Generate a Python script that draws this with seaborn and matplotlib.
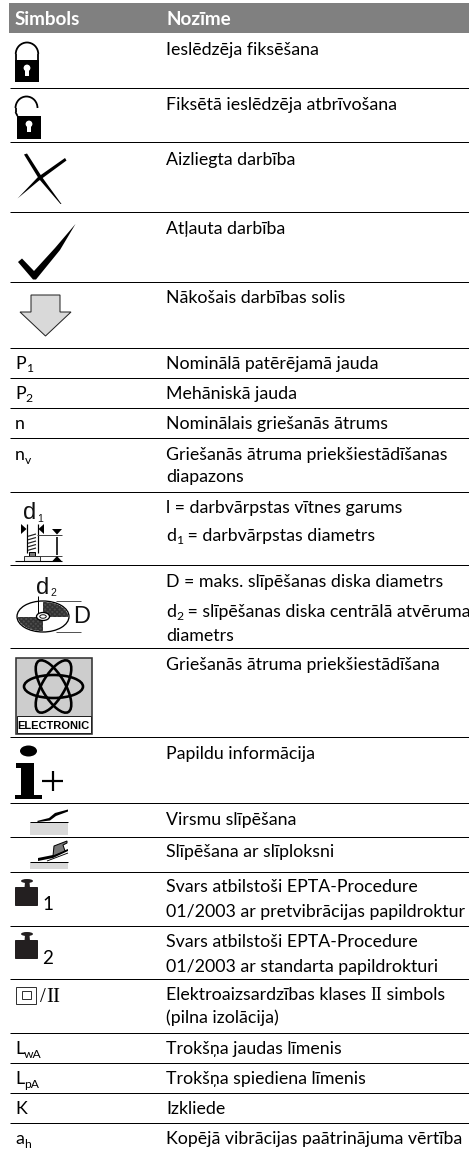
import matplotlib
matplotlib.use("Agg")
import matplotlib.pyplot as plt
import seaborn as sns
from matplotlib.patches import Polygon, Rectangle, Ellipse, Circle, Arc, FancyBboxPatch

W, H = 469, 1149

# ---- table content ----
header_symbol = "Simbols"
header_meaning = "Nozīme"
plain_symbols = [("P", "1", 369), ("P", "2", 399), ("n", "", 429), ("n", "v", 460),
                 ("L", "wA", 1054), ("L", "pA", 1084), ("K", "", 1114), ("a", "h", 1144)]
meanings = [
    "Ieslēdzēja fiksēšana", "Fiksētā ieslēdzēja atbrīvošana", "Aizliegta darbība",
    "Atļauta darbība", "Nākošais darbības solis", "Nominālā patērējamā jauda",
    "Mehāniskā jauda", "Nominālais griešanās ātrums",
    "Griešanās ātruma priekšiestādīšanas", "diapazons",
    "l = darbvārpstas vītnes garums", "D = maks. slīpēšanas diska diametrs", "diametrs",
    "Griešanās ātruma priekšiestādīšana", "Papildu informācija", "Virsmu slīpēšana",
    "Slīpēšana ar slīploksni", "Svars atbilstoši EPTA-Procedure",
    "01/2003 ar pretvibrācijas papildroktur", "Svars atbilstoši EPTA-Procedure",
    "01/2003 ar standarta papildrokturi", "(pilna izolācija)", "Trokšņa jaudas līmenis",
    "Trokšņa spiediena līmenis", "Izkliede", "Kopējā vibrācijas paātrinājuma vērtība",
]
meaning_baselines = [55, 110, 165, 234, 303, 369, 399, 429, 460, 482, 513, 587, 641, 670,
                     759, 825, 857, 892, 917, 947, 972, 1023, 1054, 1084, 1114, 1144]
rule_positions = [88, 142, 212, 282, 348, 378, 408, 438, 492, 565, 648, 737, 803, 837,
                  872, 926, 979, 1033, 1063, 1093, 1123]

FONT = ["Lato", "Liberation Sans"]
FS = 12.8
HEADER_FS = 13.6
sns.set_theme(style="white")
plt.rcParams["font.family"] = FONT

fig = plt.figure(figsize=(W / 100, H / 100), dpi=100, facecolor="white")
ax = fig.add_axes([0, 0, 1, 1])
ax.set_xlim(0, W)
ax.set_ylim(H, 0)
ax.axis("off")
sns.despine(ax=ax, left=True, bottom=True)
px = 0.72
INK = "#000000"


def runs(x, y, parts, size=FS, color=INK):
    """Draw text runs; a part is (text, is_subscript, family or None)."""
    r = fig.canvas.get_renderer()
    for text, sub, fam in parts:
        t = ax.text(x, y + (3.5 if sub else 0), text, fontsize=size * (0.68 if sub else 1),
                    color=color, va="baseline", ha="left", family=fam or FONT)
        x = ax.transData.inverted().transform(
            (t.get_window_extent(r).x1, 0))[0]
    return x


def poly(pts, fc="black", ec="none", lw=0, z=3):
    ax.add_patch(Polygon(pts, closed=True, fc=fc, ec=ec, lw=lw * px, zorder=z, joinstyle="miter"))


def line(xs, ys, lw=1.0, c="black", z=3):
    ax.plot(xs, ys, color=c, lw=lw * px, solid_capstyle="butt", zorder=z)


# ---- header band and rules ----
ax.add_patch(Rectangle((9, 3), W - 9, 30, fc="#808080", ec="none"))
ax.text(15, 25, header_symbol, color="white", fontsize=HEADER_FS, fontweight="bold", va="baseline")
ax.text(166, 25, header_meaning, color="white", fontsize=HEADER_FS, fontweight="bold", va="baseline")
ax.hlines(rule_positions, 10, W, color="black", lw=1.0 * px)

# ---- text ----
for text, base in zip(meanings, meaning_baselines):
    runs(166, base, [(text, False, None)])
runs(166, 541, [("d", False, None), ("1", True, None), (" = darbvārpstas diametrs", False, None)])
runs(166, 617, [("d", False, None), ("2", True, None),
                (" = slīpēšanas diska centrālā atvēruma", False, None)])
runs(166, 1000, [("Elektroaizsardzības klases ", False, None),
                 ("II", False, "Liberation Serif"), (" simbols", False, None)])
for main, sub, base in plain_symbols:
    parts = [(main, False, None)]
    if sub:
        parts.append((sub, True, None))
    runs(15, base, parts)


# ---- icons ----
def lock_body(x0, y0, w, h):
    ax.add_patch(Rectangle((x0, y0), w, h, fc="black", ec="none", zorder=3))
    cx = x0 + w / 2
    ax.add_patch(Circle((cx, y0 + 8), 3.4, fc="white", ec="none", zorder=4))
    poly([(cx - 1.8, y0 + 9), (cx + 1.8, y0 + 9), (cx + 1.8, y0 + 16), (cx - 1.8, y0 + 16)], fc="white", z=4)


# closed lock
lock_body(15, 60, 24, 22)
ax.add_patch(Arc((27, 54), 22.5, 23, theta1=180, theta2=360, color="black", lw=1.8 * px, zorder=3))
line([15.8, 15.8], [54, 60], 1.8)
line([38.2, 38.2], [54, 60], 1.8)
# open lock
lock_body(17, 116, 24, 23)
ax.add_patch(Arc((26.5, 108), 22, 23, theta1=180, theta2=360, color="black", lw=1.8 * px, zorder=3))
line([15.5, 15.5], [108, 112], 1.8)
line([15.5, 17.5], [112, 116], 1.8)
# cross
poly([(24, 154.5), (27, 153.5), (42, 177), (61.5, 204), (60.5, 204), (39, 179)])
poly([(17.5, 198.5), (38, 177), (65, 158), (66.5, 160.5), (42, 178.5), (38.5, 181)])
# check mark
poly([(18, 262), (22, 258.5), (34, 271), (55, 248), (75.5, 224), (60, 250), (36, 279.5), (33, 279.5)])
# next-step arrow
poly([(31, 295), (60, 295), (60, 312), (71, 312), (45.5, 336), (20, 312), (31, 312)],
     fc="#d9d9d9", ec="#222222", lw=1.0)
# spindle diagram
ax.text(23, 519, "d", fontsize=17, va="baseline", color="#111111", family="Liberation Sans")
ax.text(37, 522, "1", fontsize=7.5, va="baseline", color="#111111", family="Liberation Sans")
poly([(21, 524), (26.5, 529), (21, 534)])
poly([(44, 524), (38.5, 529), (44, 534)])
line([26.5, 26.5], [524, 553], 1.2)
line([37.5, 37.5], [524, 553], 1.2)
for yy in [535, 538.5, 542, 545.5, 549]:
    line([28, 36], [yy + 1.3, yy - 1], 1.2, "#222222")
line([37, 62], [535, 535], 1.0, "#444444")
poly([(52, 529), (62, 529), (57, 534.5)])
line([57, 57], [537, 555], 1.6)
line([38, 62], [556, 556], 1.0, "#444444")
poly([(52, 561.5), (62, 561.5), (57, 556)])
ax.add_patch(Rectangle((29, 552), 6, 4, fc="#777777", ec="black", lw=1.0 * px, zorder=3))
ax.add_patch(Rectangle((24, 556), 16, 5, fc="#eeeeee", ec="#333333", lw=1.0 * px, zorder=3))
line([15, 62], [561.2, 561.2], 1.1)
# disc diagram
ax.add_patch(Ellipse((43, 616.5), 52, 31, fc="white", ec="black", lw=1.3 * px, zorder=3))
for (x_a, y_a, w_a, h_a) in [(43, 601, 26, 16), (17, 617, 26, 16)]:
    e = Ellipse((43, 616.5), 50, 29, fc="#4d4d4d", ec="#333333", hatch="xxxxxxx", lw=0, zorder=3.1)
    ax.add_patch(e)
    e.set_clip_path(Rectangle((x_a, y_a), w_a, h_a, transform=ax.transData))
ax.add_patch(Ellipse((43, 616.5), 13, 8, fc="white", ec="black", lw=1.3 * px, zorder=4))
ax.add_patch(Ellipse((43, 616.5), 6.5, 3.5, fc="white", ec="black", lw=0.9 * px, zorder=4))
ax.text(36, 594, "d", fontsize=17, va="baseline", color="#111111", family="Liberation Sans")
ax.text(50, 596, "2", fontsize=7.5, va="baseline", color="#111111", family="Liberation Sans")
line([38, 38], [596, 616], 1.0)
line([56, 81], [601, 601], 1.0, "#555555")
line([56, 81], [632, 632], 1.0, "#555555")
ax.text(73, 623, "D", fontsize=17, va="baseline", color="#111111", family="Liberation Sans")
# ELECTRONIC emblem
ax.add_patch(Rectangle((15.5, 657.5), 76, 76, fc="#cdcdcd", ec="#333333", lw=1.6 * px, zorder=3))
ax.add_patch(Rectangle((16.5, 716), 74, 17, fc="white", ec="#222222", lw=1.0 * px, zorder=3.1))
for ang in (0, 60, 120):
    ax.add_patch(Ellipse((53.5, 686.5), 59, 23, angle=ang, fc="none", ec="black", lw=2.6 * px, zorder=3.2))
ax.text(53.5, 729, "ELECTRONIC", fontsize=8, fontweight="bold", ha="center", va="baseline",
        color="black", family="Liberation Sans", zorder=4)
# information icon
ax.add_patch(Ellipse((28.5, 751), 17, 11, fc="black", ec="none", zorder=3))
poly([(16, 763), (33.5, 763), (33.5, 795), (42, 795), (42, 799), (15, 799), (15, 795), (21, 795),
      (21, 767.5), (16, 767.5)])
line([42, 63], [781, 781], 2.2)
line([52.5, 52.5], [771, 791], 2.2)
# surface grinding icon
ax.add_patch(Rectangle((30, 822), 38, 13, fc="#d9d9d9", ec="none", zorder=2))
line([30, 68], [822, 822], 1.0)
poly([(37, 821), (49, 818), (55, 813), (68, 809.5), (68, 811.5), (56, 816), (50, 820.5), (38, 822)])
# flap-disc grinding icon
ax.add_patch(Rectangle((30, 862), 38, 7, fc="#d9d9d9", ec="none", zorder=2))
line([30, 68], [862, 862], 1.0)
poly([(38, 858), (53, 855), (68, 849), (68, 851), (53, 858), (38, 861)])
poly([(53, 856), (54, 846), (67, 841), (67, 843), (63, 845), (65, 851)], fc="#777777", ec="black", lw=1.0)
line([47, 68], [861, 853], 0.9)


# weight icons
def weight(y0, digit, base):
    ax.add_patch(FancyBboxPatch((15, y0), 23, 19, boxstyle="round,pad=0,rounding_size=0.8",
                                fc="#231f20", ec="none", zorder=3))
    poly([(25, y0 - 5), (29.5, y0 - 5), (30, y0 + 1), (24.5, y0 + 1)], fc="#231f20")
    ax.add_patch(Ellipse((27, y0 - 6), 12, 4, fc="#231f20", ec="none", zorder=3))
    ax.text(42, base, digit, fontsize=13.5, color=INK, va="baseline", family="Lato")


weight(887, "1", 910)
weight(940, "2", 964)
# protection class symbol
ax.add_patch(Rectangle((15.5, 986.5), 20, 17, fc="none", ec="#333333", lw=1.0 * px, zorder=3))
ax.add_patch(Rectangle((22, 990.5), 8.5, 8.5, fc="none", ec="#333333", lw=1.0 * px, zorder=3))
ax.text(39.5, 1002, "/", fontsize=15, color=INK, va="baseline", family="Liberation Serif")
ax.text(46.5, 1001.5, "II", fontsize=15, color=INK, va="baseline", family="Liberation Serif")

fig.savefig("out.png", dpi=100, facecolor="white")
